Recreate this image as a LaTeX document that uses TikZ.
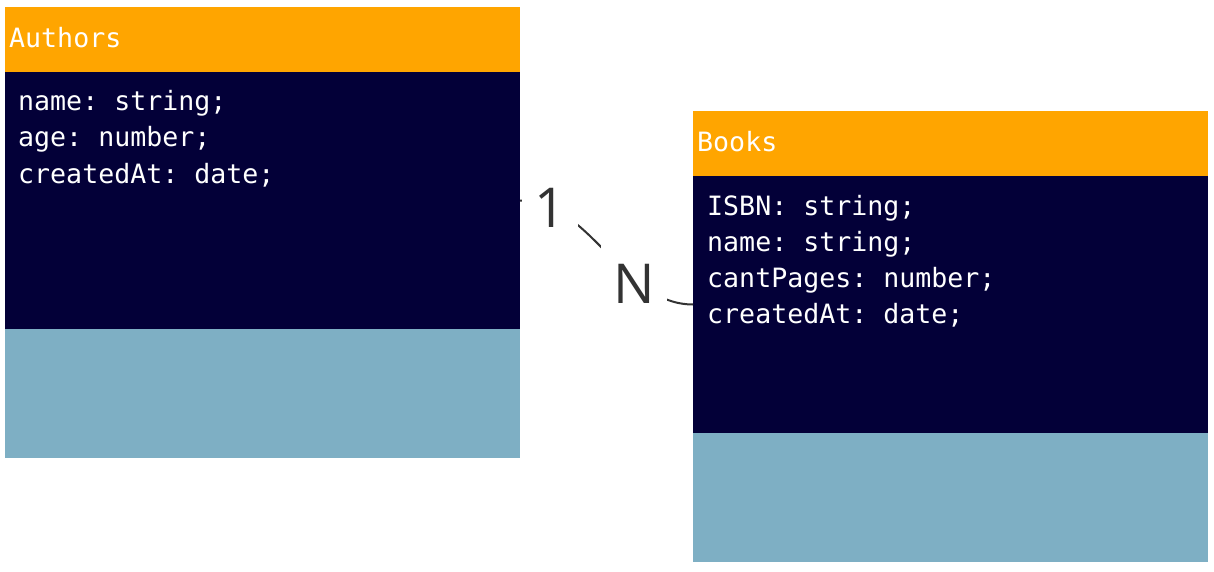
\documentclass[tikz,border=0pt]{standalone}
\usepackage{fontspec}
\setmonofont{DejaVu Sans Mono}
\newfontfamily\lblfont{Open Sans}
\definecolor{hdrorange}{HTML}{FFA500}
\definecolor{navy}{HTML}{030038}
\definecolor{lightblue}{HTML}{7EAFC4}
\definecolor{linegray}{HTML}{333333}
\begin{document}
\begin{tikzpicture}[x=1pt,y=-1pt]
\tikzset{
  boxpart/.style={anchor=north west, inner sep=0pt, outer sep=0pt, minimum width=515pt},
  hdr/.style={boxpart, fill=hdrorange, minimum height=65pt},
  bodyp/.style={boxpart, fill=navy, minimum height=257pt},
  foot/.style={boxpart, fill=lightblue, minimum height=129pt},
  mono/.style={anchor=base west, inner sep=0pt, text=white, font=\ttfamily\fontsize{26.6}{36}\selectfont},
  card/.style={fill=white, inner sep=0pt, text=linegray, font=\lblfont\fontsize{55}{60}\selectfont},
  rel/.style={draw=linegray, line width=2pt},
}
\useasboundingbox (0,0) rectangle (1214,572);
% Authors
\node[hdr] (ah) at (5,7) {};
\node[bodyp] (ab) at (5,72) {};
\node[foot] (af) at (5,329) {};
\node[mono] (at) at (9,48) {Authors};
\node[mono] (a1) at (18,111) {name: string;};
\node[mono] (a2) at (18,147) {age: number;};
\node[mono] (a3) at (18,183) {createdAt: date;};
% Books
\node[hdr] (bh) at (693,111) {};
\node[bodyp] (bb) at (693,176) {};
\node[foot] (bf) at (693,433) {};
\node[mono] (bt) at (697,152) {Books};
\node[mono] (b1) at (707,215) {ISBN: string;};
\node[mono] (b2) at (707,251) {name: string;};
\node[mono] (b3) at (707,287) {cantPages: number;};
\node[mono] (b4) at (707,323) {createdAt: date;};
% relation
\draw[rel] (ab.east) .. controls +(71,0) and +(-71,0) .. (bb.west);
\node[card, minimum width=56pt] (one) at (550,208) {1};
\node[card, minimum width=66pt, minimum height=78pt] (many) at (634,284) {N};
\end{tikzpicture}
\end{document}
